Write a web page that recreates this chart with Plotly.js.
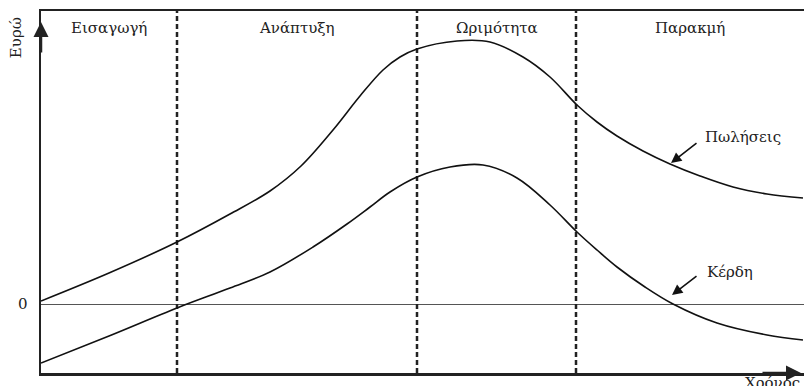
<!DOCTYPE html>
<html>
<head>
<meta charset="utf-8">
<script src="https://cdn.plot.ly/plotly-3.0.1.min.js"></script>
<style>
  html, body { margin: 0; padding: 0; background: #fff; }
  #chart { width: 804px; height: 386px; }
</style>
</head>
<body>
<div id="chart"></div>
<script>
// product life cycle: time on x, euros on y (arbitrary units, 0 = break-even)
var stages = ["Εισαγωγή", "Ανάπτυξη", "Ωριμότητα", "Παρακμή"];
var stageEdges = [0, 136, 376, 535, 763];

var salesX = [0, 68, 136, 189, 229, 260, 292, 319, 342, 359, 376, 416, 449, 482, 509, 536, 556, 576, 602, 629, 659, 692, 726, 762];
var salesY = [3, 31, 62, 90, 113, 138, 174, 208, 234, 247, 255, 263, 262, 247, 227, 199, 182, 168, 153, 140, 128, 117, 110, 106];

var profitX = [0, 68, 136, 189, 229, 272, 306, 329, 349, 376, 409, 442, 476, 509, 536, 556, 576, 604, 632, 676, 726, 762];
var profitY = [-59, -32, -4, 16, 32, 57, 80, 97, 112, 127, 137, 139, 126, 99, 72, 54, 37, 17, 0, -19, -31, -36];

var yMin = -69, yMax = 293;
var serif = "DejaVu Serif, Liberation Serif, serif";

var traces = [];

// dashed stage boundaries
for (var i = 1; i < stageEdges.length - 1; i++) {
    traces.push({
        x: [stageEdges[i], stageEdges[i]],
        y: [yMin, yMax],
        mode: "lines",
        line: { color: "#222", width: 2.5, dash: "5px,3px" },
        hoverinfo: "skip"
    });
}

traces.push({
    x: salesX, y: salesY, name: "Πωλήσεις",
    mode: "lines",
    line: { color: "#111", width: 1.6, shape: "spline", smoothing: 1 }
});
traces.push({
    x: profitX, y: profitY, name: "Κέρδη",
    mode: "lines",
    line: { color: "#111", width: 1.6, shape: "spline", smoothing: 1 }
});

var annotations = [];
for (var s = 0; s < stages.length; s++) {
    annotations.push({
        x: (stageEdges[s] + stageEdges[s + 1]) / 2, y: 276,
        text: stages[s], showarrow: false,
        font: { family: serif, size: 15, color: "#222" }
    });
}

// curve labels with arrows
annotations.push({ x: 630, y: 141, ax: 657, ay: 162, axref: "x", ayref: "y",
    text: "", showarrow: true, arrowhead: 2, arrowsize: 1.3, arrowwidth: 1.6, arrowcolor: "#111" });
annotations.push({ x: 662, y: 167, text: "Πωλήσεις", showarrow: false, xanchor: "left",
    font: { family: serif, size: 15, color: "#222" } });
annotations.push({ x: 631, y: 9, ax: 657, ay: 29, axref: "x", ayref: "y",
    text: "", showarrow: true, arrowhead: 2, arrowsize: 1.3, arrowwidth: 1.6, arrowcolor: "#111" });
annotations.push({ x: 664, y: 32, text: "Κέρδη", showarrow: false, xanchor: "left",
    font: { family: serif, size: 15, color: "#222" } });

// axis arrowheads
annotations.push({ x: 0, y: 282, ax: 0, ay: 250, axref: "x", ayref: "y",
    text: "", showarrow: true, arrowhead: 2, arrowsize: 1.2, arrowwidth: 2.5, arrowcolor: "#222" });
annotations.push({ x: 760, y: yMin, ax: 720, ay: yMin, axref: "x", ayref: "y",
    text: "", showarrow: true, arrowhead: 2, arrowsize: 1.2, arrowwidth: 2.5, arrowcolor: "#222" });

// axis titles
annotations.push({ xref: "paper", x: -0.047, y: 266, text: "Ευρώ", textangle: -90,
    showarrow: false, font: { family: serif, size: 15, color: "#222" } });
annotations.push({ x: 731, y: yMin, yanchor: "top", yshift: 1, text: "Χρόνος",
    showarrow: false, font: { family: serif, size: 15, color: "#222" } });

var layout = {
    width: 804, height: 386,
    margin: { l: 41, r: 0, t: 11, b: 13 },
    paper_bgcolor: "#fff", plot_bgcolor: "#fff",
    showlegend: false,
    xaxis: {
        range: [0, 763], showgrid: false, zeroline: false,
        showticklabels: false, ticks: "",
        showline: true, mirror: true, linecolor: "#222", linewidth: 2.5
    },
    yaxis: {
        range: [yMin, yMax], showgrid: false,
        zeroline: true, zerolinecolor: "#555", zerolinewidth: 1,
        tickvals: [0], ticktext: ["0"], ticks: "", ticklabelstandoff: 8,
        tickfont: { family: serif, size: 15, color: "#222" },
        showline: true, linecolor: "#222", linewidth: 2.5
    },
    annotations: annotations
};

Plotly.newPlot("chart", traces, layout, { displayModeBar: false, staticPlot: true });
</script>
</body>
</html>
